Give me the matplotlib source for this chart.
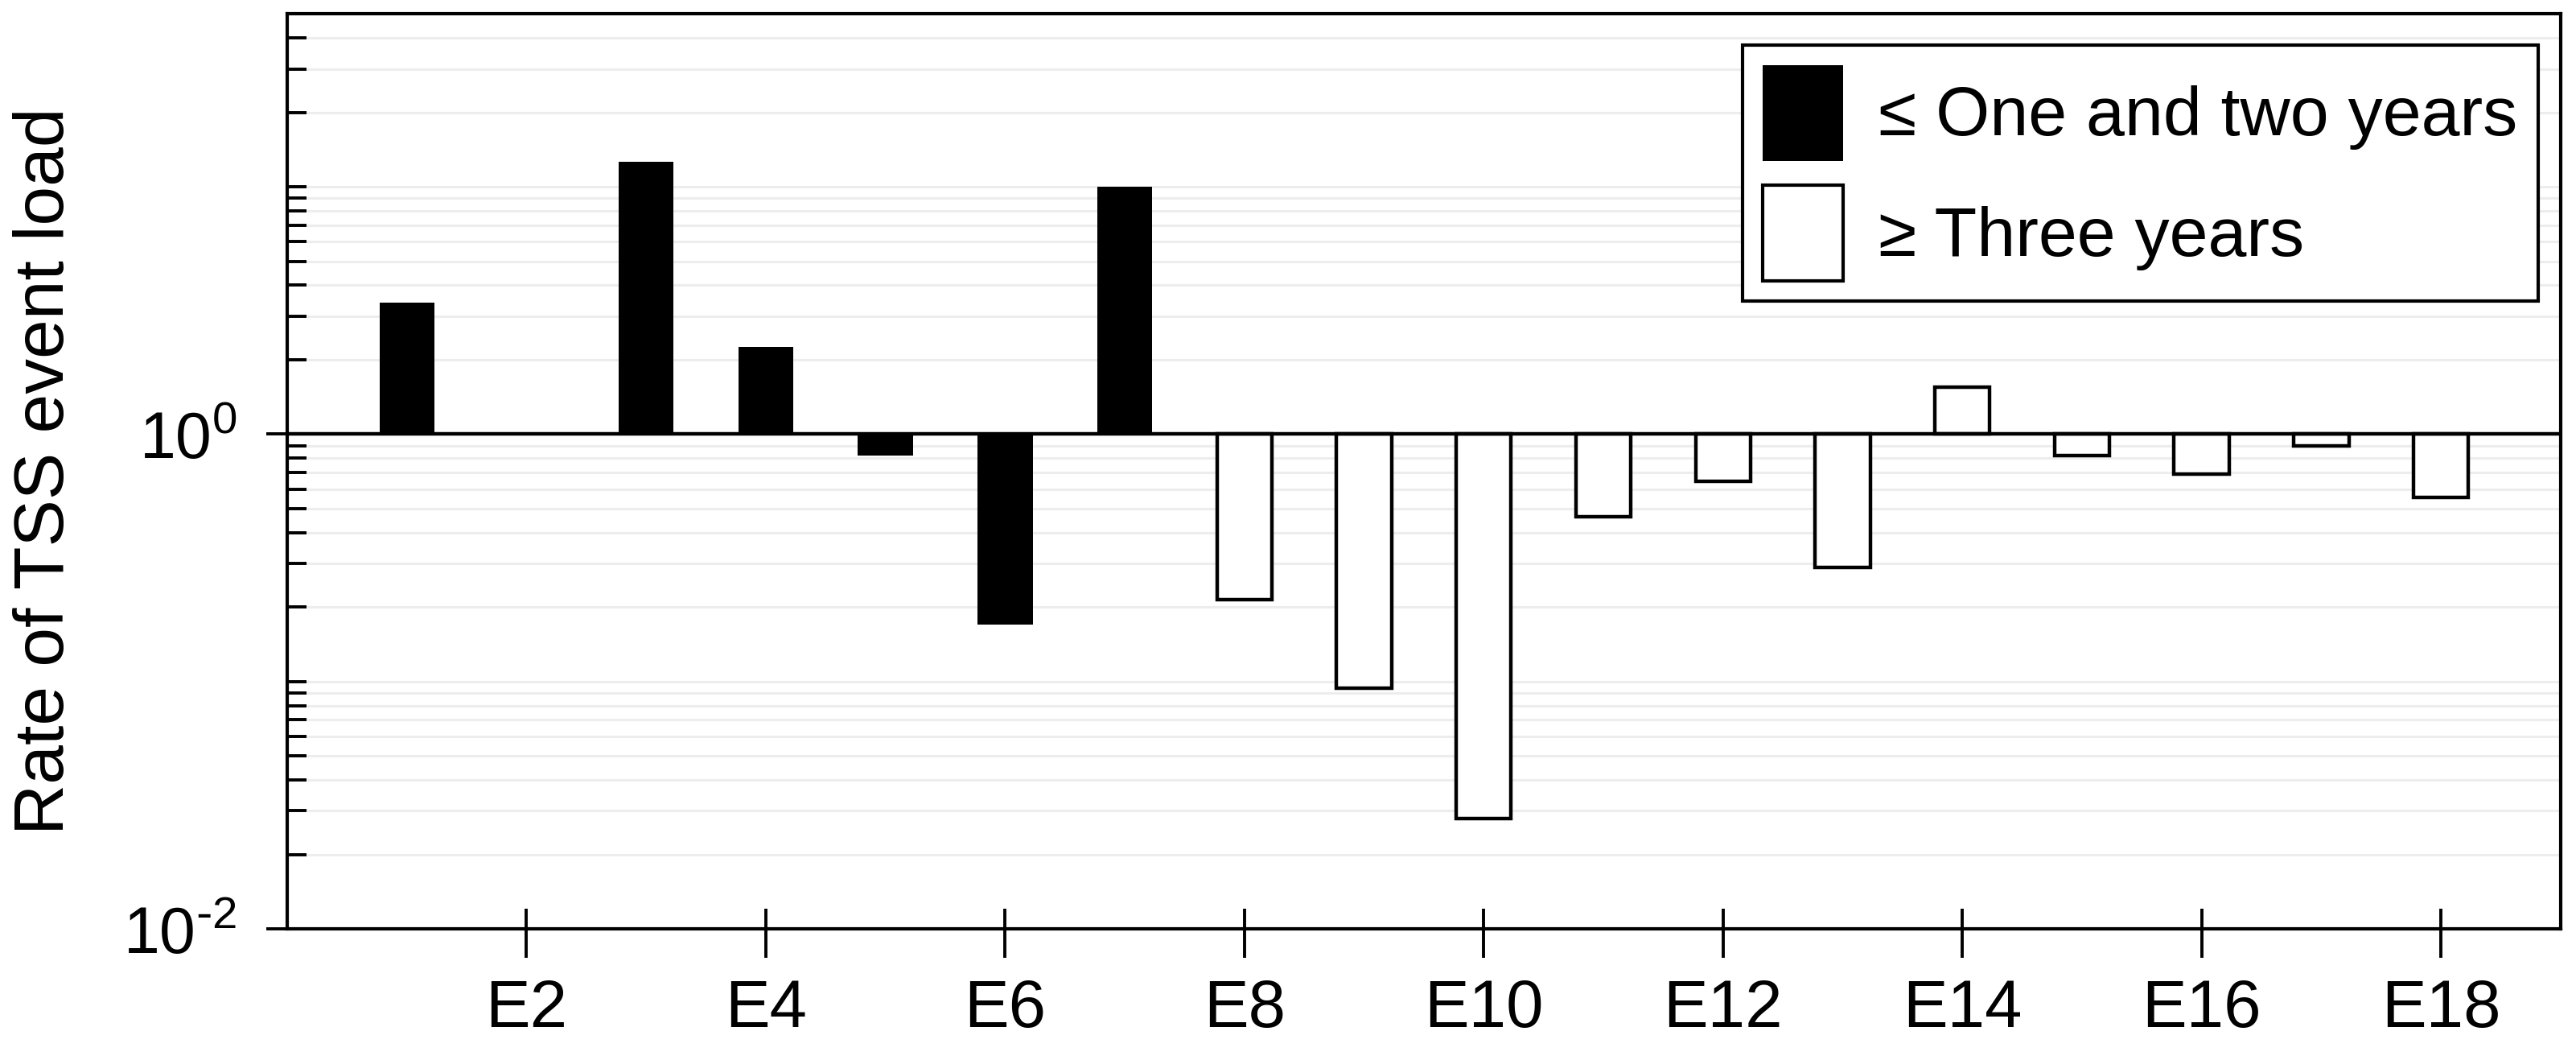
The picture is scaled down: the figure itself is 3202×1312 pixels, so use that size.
import numpy as np
import matplotlib
matplotlib.use("Agg")
import matplotlib.pyplot as plt
from matplotlib.ticker import LogLocator, FixedLocator, NullFormatter
from matplotlib.patches import Patch

plt.rcParams['font.family'] = ['Liberation Sans', 'DejaVu Sans']
plt.rcParams['mathtext.default'] = 'regular'

# dati
eventi1 = [1, 3, 4, 5, 6, 7]
rate1 = [3.4, 12.6, 2.25, 0.82, 0.17, 10.0]
eventi2 = [8, 9, 10, 11, 12, 13, 14, 15, 16, 17, 18]
rate2 = [0.215, 0.094, 0.028, 0.465, 0.645, 0.29, 1.55, 0.82, 0.69, 0.9, 0.555]
xtick_pos = [2, 4, 6, 8, 10, 12, 14, 16, 18]
xtick_lab = ['E2', 'E4', 'E6', 'E8', 'E10', 'E12', 'E14', 'E16', 'E18']
label1 = '\u2264 One and two years'
label2 = '\u2265 Three years'

fig = plt.figure(figsize=(32.02, 13.12), dpi=100)
ax = fig.add_subplot(111)
fig.subplots_adjust(left=0.1115, right=0.994, top=0.9867, bottom=0.1204)

ax.set_yscale('log')
ax.set_ylim(0.01, 50)
ax.set_xlim(0, 19)

# barre dalla linea base 1
ax.bar(eventi1, np.array(rate1) - 1, bottom=1, width=0.46, color='black',
       edgecolor='black', linewidth=0, zorder=2)
ax.bar(eventi2, np.array(rate2) - 1, bottom=1, width=0.46, color='white',
       edgecolor='black', linewidth=3.2, zorder=2)
ax.axhline(1, color='black', linewidth=3.2, zorder=3)

# asse y
ax.yaxis.set_major_locator(FixedLocator([0.01, 1]))
ax.set_yticklabels([r'$10^{\text{-}2}$', '$10^{0}$'])
ax.yaxis.set_minor_locator(LogLocator(base=10, subs=np.arange(1, 10), numticks=50))
ax.yaxis.set_minor_formatter(NullFormatter())
ax.tick_params(axis='y', which='major', direction='out', length=19, width=2.8,
               labelsize=58, pad=26, right=False)
ax.tick_params(axis='y', which='minor', direction='in', length=17, width=2.8,
               right=False)

# asse x: tacche fuori lunghe, dentro corte
ax.xaxis.remove_overlapping_locs = False
ax.set_xticks(xtick_pos)
ax.set_xticks(xtick_pos, minor=True)
ax.set_xticklabels(xtick_lab)
ax.tick_params(axis='x', which='major', direction='out', length=26, width=2.8,
               labelsize=60, pad=18, top=False)
ax.tick_params(axis='x', which='minor', direction='in', length=18, width=2.8,
               top=False, labelbottom=False)

for s in ax.spines.values():
    s.set_linewidth(3.0)

ax.set_axisbelow(True)
ax.grid(True, axis='y', which='both', color='#ededed', linewidth=2.2)

ax.set_ylabel('Rate of TSS event load', fontsize=63)
ax.yaxis.set_label_coords(-0.092, 0.5)

handles = [Patch(facecolor='black', edgecolor='black', linewidth=0),
           Patch(facecolor='white', edgecolor='black', linewidth=3)]
leg = ax.legend(handles, [label1, label2], loc='upper right',
                bbox_to_anchor=(0.990, 0.966), fontsize=62, frameon=True,
                fancybox=False, framealpha=1, edgecolor='black',
                handlelength=1.17, handleheight=1.75, handletextpad=0.51,
                labelspacing=0.35, borderpad=0.29, borderaxespad=0)
leg.get_frame().set_linewidth(3.0)

fig.savefig('out.png', dpi=100)
